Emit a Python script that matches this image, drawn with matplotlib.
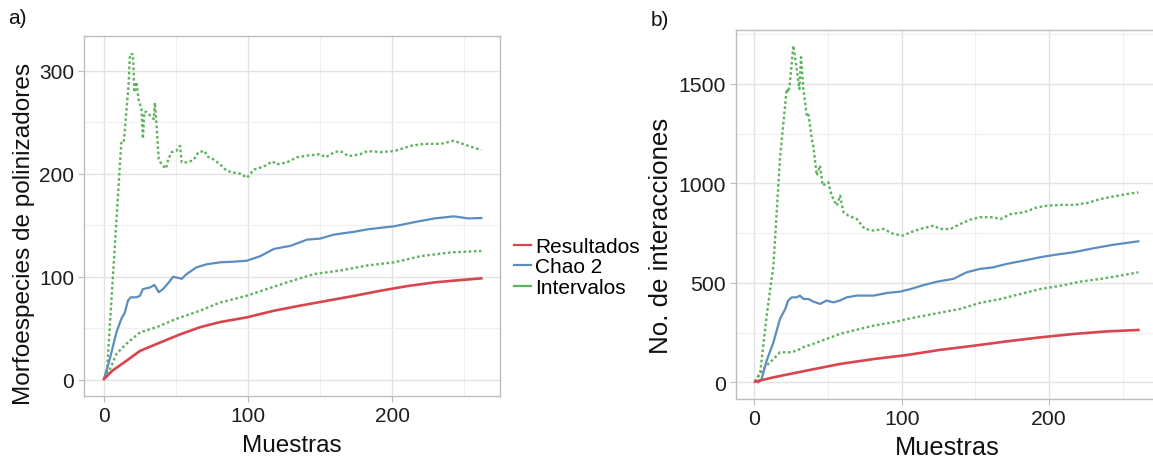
import matplotlib
matplotlib.use("Agg")
import matplotlib.pyplot as plt
from matplotlib.lines import Line2D
from matplotlib.ticker import MultipleLocator

plt.rcParams['font.family'] = ['Liberation Sans', 'DejaVu Sans']

# ---------------- Panel a data ----------------
a_res_x = [0, 6, 15.6, 25, 38.8, 52.8, 66.7, 80.7, 99, 118, 136.5, 155, 174, 192, 211, 229.5, 248, 262]
a_res_y = [0.6, 9, 18.4, 28, 36, 44, 51, 56, 60.5, 67, 72, 76.7, 81.5, 86.4, 91, 94.5, 96.8, 98.4]

a_chao_x = [0, 4, 8.6, 12, 14.4, 16.7, 18.6, 22.5, 25, 27, 32, 35, 38, 41, 45, 48, 54, 57.4, 64, 71,
            80.7, 90, 99, 108.6, 118, 129.5, 141, 150, 160, 174, 183, 201.6, 215.6, 229.5, 243, 253, 262]
a_chao_y = [1, 20, 46, 59, 65, 77, 80, 80, 81.5, 88, 89.6, 92, 85, 88, 94.5, 100, 98, 102.6, 109, 112,
            114, 114.6, 115.5, 120, 127, 130, 136, 137, 141, 143.7, 146, 149, 153, 156.6, 158.6, 156.6, 157]

a_up_x = [2, 12, 13.7, 17, 18, 20, 20.5, 21, 22.5, 24, 26, 27, 28, 29.5, 34.6, 35.3, 36.5, 38, 40, 43,
          44.6, 47, 50, 52.8, 54, 57.4, 62, 65.6, 70, 71.4, 76, 80.7, 85, 90, 94.7, 99.3, 104, 111, 117,
          120, 127, 134, 141, 150, 154, 160, 164, 170, 178, 183, 192, 201.6, 213, 222, 234, 243, 253, 262]
a_up_y = [7, 230, 230, 285, 316, 316, 305, 279, 289, 272, 263, 234, 260, 260, 253, 269, 247, 214, 209, 205,
          214, 221, 222, 227, 211, 211, 213, 221, 222, 217, 214, 209, 203, 201, 200, 196, 204, 207, 212,
          209, 211, 216, 217.5, 219, 216, 221, 222, 217, 219, 222, 221, 222, 227, 229, 229, 232, 227, 223]

a_lo_x = [0, 4, 8.6, 15.6, 25, 36.5, 50, 66.7, 80.7, 99, 113, 127, 146, 164, 183, 201.6, 220, 241, 262]
a_lo_y = [1, 10, 25, 35, 46, 51, 59, 67, 75, 81.5, 88, 94.5, 102.6, 106, 111, 114, 120, 123.6, 125]

# ---------------- Panel b data ----------------
b_res_x = [0.5, 13, 35.6, 58, 81, 103.5, 126, 149, 171.5, 194, 216.7, 239, 260.5]
b_res_y = [3, 25, 59, 92, 117, 137, 163, 184, 206, 226, 243, 256, 263]

b_chao_x = [2.7, 5, 8.4, 13, 17.4, 21, 23, 25.4, 28.8, 31, 33.3, 36.7, 40, 44.6, 49, 53.7, 58, 62.7, 69.5,
            81, 90, 99, 106, 115, 124, 135, 144, 153, 162, 171, 183, 194, 203, 216.7, 230, 244, 260.5]
b_chao_y = [0, 17, 109, 201, 318, 369, 411, 427, 427, 436, 419, 419, 406, 394, 411, 402, 411, 427, 436,
            436, 449, 456, 469, 489, 506, 520, 553, 570, 578, 595, 612, 629, 640, 654, 674, 692, 709]

b_up_x = [0.5, 4, 8.4, 13, 17.4, 22, 23, 24, 26.5, 28.8, 30.6, 31.7, 33.3, 35.6, 36.7, 39, 40, 42.4, 44.6,
          46.4, 50.2, 52.5, 56, 58.2, 60.5, 63.9, 69.5, 75, 81, 87.7, 94.4, 101, 105.8, 112.6, 121.6, 126,
          133, 139.7, 146.5, 153, 162, 167, 174, 183, 192, 198.7, 208, 217, 226, 235, 244, 253, 260.5]
b_up_y = [3, 50, 335, 587, 1123, 1475, 1458, 1492, 1693, 1576, 1475, 1635, 1475, 1341, 1350, 1224, 1190,
          1040, 1090, 989, 1006, 939, 888, 939, 855, 838, 821, 771, 763, 771, 746, 738, 754, 771, 788, 771,
          771, 796, 818, 830, 830, 821, 846, 855, 880, 888, 892, 892, 902, 922, 935, 947, 955]

b_lo_x = [0.5, 6, 13, 17.4, 24, 29, 33, 40, 49, 58, 67, 81, 94.4, 103.5, 121.6, 139.7, 153, 167, 180.5,
          194, 208, 221, 235, 248, 260.5]
b_lo_y = [3, 67, 117, 151, 151, 159, 176, 193, 218, 243, 260, 285, 302, 318, 344, 369, 399, 419, 444,
          469, 486, 506, 520, 536, 553]

series_labels = ["Resultados", "Chao 2", "Intervalos"]
a_yticks = [0, 100, 200, 300]
b_yticks = [0, 500, 1000, 1500]
xticks = [0, 100, 200]

C_RES = "#D8454D"
C_CHAO = "#5B8EBE"
C_INT = "#5DB35B"

fig = plt.figure(figsize=(11.53, 4.60), dpi=100)

ax_a = fig.add_axes([84/1153, 1-397/460, (500-84)/1153, (397-37)/460])
ax_b = fig.add_axes([735.7/1153, 1-400/460, (1159.7-735.7)/1153, (400-30.7)/460])


def style(ax, xlim, ylim, yticks, yminor, tsize, lsize, xpad):
    ax.set_xlim(*xlim)
    ax.set_ylim(*ylim)
    ax.set_xticks(xticks)
    ax.set_yticks(yticks)
    ax.xaxis.set_minor_locator(MultipleLocator(50))
    ax.yaxis.set_minor_locator(MultipleLocator(yminor))
    ax.grid(which='major', color='#E3E3E3', lw=1.0, zorder=0)
    ax.grid(which='minor', color='#EFEFEF', lw=0.8, zorder=0)
    ax.set_axisbelow(True)
    for s in ax.spines.values():
        s.set_color('#BDBDBD')
        s.set_linewidth(1.0)
    ax.tick_params(which='major', length=4, color='#BDBDBD', labelsize=tsize, labelcolor='#1E1E1E', pad=3)
    ax.tick_params(which='minor', length=0)
    ax.set_xlabel("Muestras", fontsize=lsize, color='#111111', labelpad=xpad)


dash = (0, (1.1, 1.1))
for ax, rx, ry, cx, cy, ux, uy, lx, ly in [
        (ax_a, a_res_x, a_res_y, a_chao_x, a_chao_y, a_up_x, a_up_y, a_lo_x, a_lo_y),
        (ax_b, b_res_x, b_res_y, b_chao_x, b_chao_y, b_up_x, b_up_y, b_lo_x, b_lo_y)]:
    ax.plot(ux, uy, color=C_INT, lw=1.7, ls=dash, zorder=3)
    ax.plot(lx, ly, color=C_INT, lw=1.7, ls=dash, zorder=3)
    ax.plot(cx, cy, color=C_CHAO, lw=1.6, zorder=4)
    ax.plot(rx, ry, color=C_RES, lw=1.9, zorder=5)

style(ax_a, (-13.9, 275), (-15.8, 333.7), a_yticks, 50, 15, 17.5, 7)
style(ax_b, (-12.6, 275), (-84, 1773), b_yticks, 250, 15.3, 18.3, 5.5)
ax_a.set_ylabel("Morfoespecies de polinizadores", fontsize=17.6, color='#111111')
ax_b.set_ylabel("No. de interacciones", fontsize=18.6, color='#111111')
ax_a.yaxis.set_label_coords(-0.118, 0.453)
ax_b.yaxis.set_label_coords(-0.147, 0.445)

fig.text(8/1153, 1-19/460, "a)", fontsize=15, va='center', ha='left', color='#111111')
fig.text(651/1153, 1-20/460, "b)", fontsize=15, va='center', ha='left', color='#111111')

handles = [Line2D([], [], color=c, lw=1.6) for c in (C_RES, C_CHAO, C_INT)]
fig.legend(handles, series_labels, loc='center left', bbox_to_anchor=(514/1153, 1-268/460),
           frameon=False, fontsize=15, handlelength=0.8, handletextpad=0.2, labelspacing=0.08,
           borderaxespad=0, borderpad=0)

fig.savefig("out.png", dpi=100)
